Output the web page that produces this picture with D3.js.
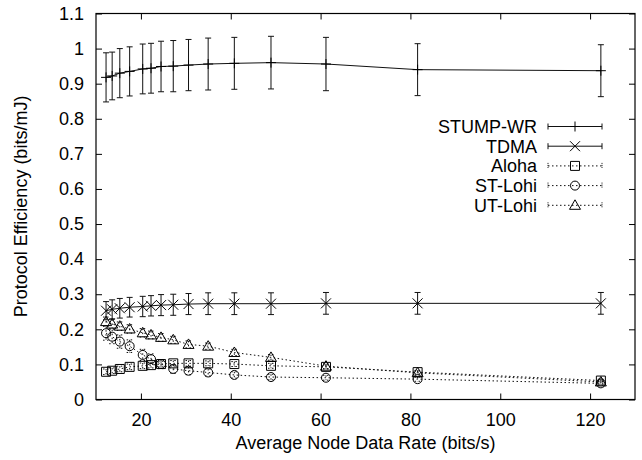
<!DOCTYPE html>
<html>
<head>
<meta charset="utf-8">
<script src="https://cdn.jsdelivr.net/npm/d3@7"></script>
<style>
    body { margin: 0; background: #fff; }
    text { font-family: "Liberation Sans", Arial, Helvetica, sans-serif; }
</style>
</head>
<body>
<svg id="drawing_region"></svg>
<script>
// node data rate (bits/s)
const rates = [12.24, 13.6, 15.3, 17.49, 20.4, 22.25, 24.48, 27.2, 30.6, 34.97, 40.8, 48.96, 61.2, 81.6, 122.4];

const stump    = [0.918, 0.922, 0.930, 0.935, 0.942, 0.944, 0.949, 0.950, 0.953, 0.956, 0.958, 0.960, 0.956, 0.940, 0.937];
const stumpErr = [0.070, 0.068, 0.070, 0.070, 0.071, 0.071, 0.072, 0.073, 0.073, 0.074, 0.074, 0.075, 0.076, 0.074, 0.074];
const tdma     = [0.253, 0.257, 0.260, 0.263, 0.265, 0.267, 0.269, 0.270, 0.272, 0.273, 0.273, 0.273, 0.274, 0.274, 0.274];
const tdmaErr  = [0.026, 0.027, 0.028, 0.028, 0.029, 0.029, 0.030, 0.030, 0.030, 0.031, 0.031, 0.031, 0.031, 0.031, 0.031];
const aloha    = [0.079, 0.082, 0.087, 0.093, 0.096, 0.098, 0.101, 0.103, 0.103, 0.103, 0.101, 0.096, 0.093, 0.078, 0.054];
const alohaErr = [0.008, 0.008, 0.008, 0.008, 0.008, 0.008, 0.008, 0.008, 0.008, 0.007, 0.007, 0.007, 0.006, 0.005, 0.004];
const stLohi   = [0.189, 0.179, 0.165, 0.152, 0.127, 0.115, 0.101, 0.087, 0.082, 0.077, 0.070, 0.064, 0.062, 0.058, 0.046];
const stErr    = [0.020, 0.020, 0.019, 0.018, 0.016, 0.015, 0.013, 0.012, 0.011, 0.010, 0.009, 0.008, 0.007, 0.006, 0.005];
const utLohi   = [0.222, 0.215, 0.209, 0.201, 0.190, 0.184, 0.177, 0.170, 0.157, 0.152, 0.134, 0.120, 0.095, 0.076, 0.050];
const utErr    = [0.013, 0.013, 0.012, 0.012, 0.012, 0.011, 0.011, 0.010, 0.010, 0.009, 0.009, 0.008, 0.007, 0.006, 0.005];

const seriesNames = ["STUMP-WR", "TDMA", "Aloha", "ST-Lohi", "UT-Lohi"];
const xTicks = [20, 40, 60, 80, 100, 120];
const yTicks = [0, 0.1, 0.2, 0.3, 0.4, 0.5, 0.6, 0.7, 0.8, 0.9, 1, 1.1];

const markers = {
    plus:     "M-5,0H5M0,-5V5",
    cross:    "M-5,-5L5,5M-5,5L5,-5",
    square:   "M-4.5,-4.5H4.5V4.5H-4.5Z",
    circle:   "M-4.5,0A4.5,4.5 0 1,0 4.5,0A4.5,4.5 0 1,0 -4.5,0Z",
    triangle: "M0,-5.5L5.5,4L-5.5,4Z"
};

const series = [
    { name: seriesNames[0], values: stump,  err: stumpErr, marker: "plus",     dotted: false },
    { name: seriesNames[1], values: tdma,   err: tdmaErr,  marker: "cross",    dotted: false },
    { name: seriesNames[2], values: aloha,  err: alohaErr, marker: "square",   dotted: true },
    { name: seriesNames[3], values: stLohi, err: stErr,    marker: "circle",   dotted: true },
    { name: seriesNames[4], values: utLohi, err: utErr,    marker: "triangle", dotted: true }
];

var config = {
    parent: '#drawing_region',
    width: 642,
    height: 460,
    margin: {top: 13.5, right: 7, bottom: 60.5, left: 96}
};

class ErrorPlot {
    constructor(config, data) {
        this.config = config;
        this.data = data;
        this.init();
    }

    init() {
        let self = this;
        self.svg = d3.select(self.config.parent)
            .attr('width', self.config.width)
            .attr('height', self.config.height);

        self.inner_width = self.config.width - self.config.margin.left - self.config.margin.right;
        self.inner_height = self.config.height - self.config.margin.top - self.config.margin.bottom;

        self.chart = self.svg.append('g')
            .attr('transform', `translate(${self.config.margin.left}, ${self.config.margin.top})`);

        self.xscale = d3.scaleLinear().domain([10, 130]).range([0, self.inner_width]);
        self.yscale = d3.scaleLinear().domain([0, 1.1]).range([self.inner_height, 0]);
    }

    render() {
        let self = this;
        const fmt = d => String(+d.toFixed(1));

        // axes with inward ticks, mirrored on top/right
        self.chart.append('g')
            .attr('transform', `translate(0, ${self.inner_height})`)
            .call(d3.axisBottom(self.xscale).tickValues(xTicks).tickSize(-6).tickPadding(14));
        self.chart.append('g')
            .call(d3.axisLeft(self.yscale).tickValues(yTicks).tickFormat(fmt).tickSize(-6).tickPadding(12));
        self.chart.append('g')
            .call(d3.axisTop(self.xscale).tickValues(xTicks).tickFormat('').tickSize(-6));
        self.chart.append('g')
            .attr('transform', `translate(${self.inner_width}, 0)`)
            .call(d3.axisRight(self.yscale).tickValues(yTicks).tickFormat('').tickSize(-6));

        self.chart.selectAll('.domain').remove();
        self.chart.selectAll('.tick line').attr('stroke', '#000');
        self.chart.selectAll('.tick text')
            .attr('fill', '#000')
            .style('font-size', '18px')
            .style('font-family', '"Liberation Sans", Arial, sans-serif');

        self.chart.append('rect')
            .attr('x', 0).attr('y', 0)
            .attr('width', self.inner_width)
            .attr('height', self.inner_height)
            .attr('fill', 'none')
            .attr('stroke', '#000')
            .attr('stroke-width', 1.2);

        // axis titles
        self.svg.append('text')
            .attr('x', self.config.margin.left + self.inner_width / 2)
            .attr('y', 449)
            .attr('text-anchor', 'middle')
            .style('font-size', '18px')
            .text('Average Node Data Rate (bits/s)');

        self.svg.append('text')
            .attr('transform', `translate(27, ${self.config.margin.top + self.inner_height / 2}) rotate(-90)`)
            .attr('text-anchor', 'middle')
            .style('font-size', '18px')
            .text('Protocol Efficiency (bits/mJ)');

        const line = d3.line()
            .x(d => self.xscale(d.x))
            .y(d => self.yscale(d.y));

        // draw from last to first so STUMP/TDMA sit on top
        self.data.slice().reverse().forEach(s => {
            const pts = rates.map((x, i) => ({ x: x, y: s.values[i], e: s.err[i] }));
            const dash = s.dotted ? '1.5,2.5' : null;
            const g = self.chart.append('g');

            g.append('path')
                .datum(pts)
                .attr('d', line)
                .attr('fill', 'none')
                .attr('stroke', '#111')
                .attr('stroke-width', 1)
                .attr('stroke-dasharray', dash);

            // error bars
            const eb = g.selectAll('.eb').data(pts).enter().append('g')
                .attr('stroke', '#111')
                .attr('stroke-width', 1)
                .attr('stroke-dasharray', dash);
            eb.append('line')
                .attr('x1', d => self.xscale(d.x)).attr('x2', d => self.xscale(d.x))
                .attr('y1', d => self.yscale(d.y + d.e)).attr('y2', d => self.yscale(d.y - d.e));
            eb.append('line')
                .attr('x1', d => self.xscale(d.x) - 3).attr('x2', d => self.xscale(d.x) + 3)
                .attr('y1', d => self.yscale(d.y + d.e)).attr('y2', d => self.yscale(d.y + d.e));
            eb.append('line')
                .attr('x1', d => self.xscale(d.x) - 3).attr('x2', d => self.xscale(d.x) + 3)
                .attr('y1', d => self.yscale(d.y - d.e)).attr('y2', d => self.yscale(d.y - d.e));

            g.selectAll('.pt').data(pts).enter().append('path')
                .attr('transform', d => `translate(${self.xscale(d.x)}, ${self.yscale(d.y)})`)
                .attr('d', markers[s.marker])
                .attr('fill', 'none')
                .attr('stroke', '#000')
                .attr('stroke-width', 1);
        });

        // legend
        const legend = self.svg.append('g');
        self.data.forEach((s, i) => {
            const cy = 126.5 + i * 19.7;
            const dash = s.dotted ? '1.5,2.5' : null;
            const row = legend.append('g');
            row.append('text')
                .attr('x', 537).attr('y', cy + 6.5)
                .attr('text-anchor', 'end')
                .style('font-size', '18px')
                .text(s.name);
            row.append('line')
                .attr('x1', 548).attr('x2', 602).attr('y1', cy).attr('y2', cy)
                .attr('stroke', '#111').attr('stroke-dasharray', dash);
            [548, 602].forEach(x => {
                row.append('line')
                    .attr('x1', x).attr('x2', x).attr('y1', cy - 3).attr('y2', cy + 3)
                    .attr('stroke', '#111').attr('stroke-dasharray', s.dotted ? '1,1' : null);
            });
            row.append('path')
                .attr('transform', `translate(575, ${cy})`)
                .attr('d', markers[s.marker])
                .attr('fill', 'none')
                .attr('stroke', '#000');
        });
    }
}

const plot = new ErrorPlot(config, series);
plot.render();
</script>
</body>
</html>
